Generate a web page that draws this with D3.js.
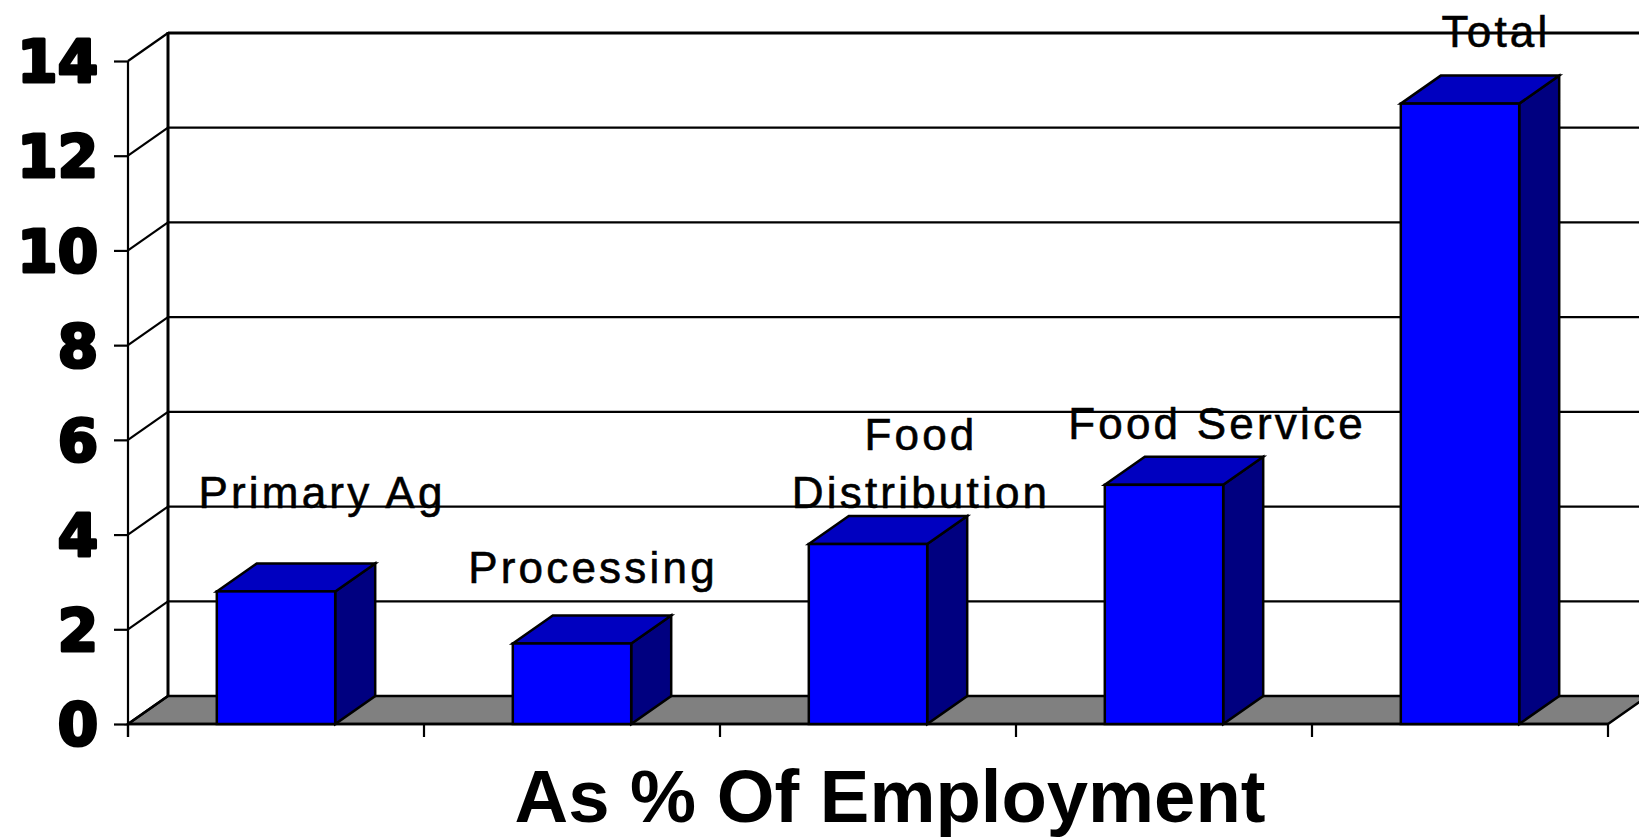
<!DOCTYPE html>
<html>
<head>
<meta charset="utf-8">
<script src="https://cdn.jsdelivr.net/npm/d3@7"></script>
<style>
  html, body { margin: 0; padding: 0; background: #fff; }
  svg { display: block; }
</style>
</head>
<body>
<svg id="chart" width="1639" height="838"></svg>
<script>
// ---- data ----
const categories = ["Primary Ag", "Processing", "Food Distribution", "Food Service", "Total"];
const values = [2.8, 1.7, 3.8, 5.05, 13.1];
const yTicks = [0, 2, 4, 6, 8, 10, 12, 14];
const labelLines = [["Primary Ag"], ["Processing"], ["Food", "Distribution"], ["Food Service"], ["Total"]];
const axisTitle = "As % Of Employment";

// ---- layout (not data) ----
const W = 1639, H = 838;
const plotLeft = 128, plotRight = 1608, plotBottom = 724, plotTop = 61;
const dx = 40, dy = -28;  // 3D depth offset
const labelDx = [46, 21, 53, 53, 36];          // label x offset from bar centre
const labelBaseline = [508, 583, 508, 439, 47]; // baseline of last label line
const lineGap = 58;

const svg = d3.select("#chart");

const x = d3.scaleBand().domain(categories).range([plotLeft, plotRight])
  .paddingInner(0.6).paddingOuter(0.3);
const y = d3.scaleLinear().domain([0, 14]).range([plotBottom, plotTop]);

// floor
svg.append("polygon")
  .attr("points", [[plotLeft, plotBottom], [plotLeft + dx, plotBottom + dy], [plotRight + dx, plotBottom + dy], [plotRight, plotBottom]].join(" "))
  .attr("fill", "#808080").attr("stroke", "#000").attr("stroke-width", 2.5).attr("stroke-linejoin", "miter");

// back-wall gridlines
svg.append("g").selectAll("line").data(yTicks.filter(d => d > 0)).join("line")
  .attr("x1", plotLeft + dx).attr("x2", W + 20)
  .attr("y1", d => y(d) + dy).attr("y2", d => y(d) + dy)
  .attr("stroke", "#000").attr("stroke-width", d => d === 14 ? 3 : 2.2);

// side-wall diagonals
svg.append("g").selectAll("line").data(yTicks).join("line")
  .attr("x1", plotLeft).attr("x2", plotLeft + dx)
  .attr("y1", d => y(d)).attr("y2", d => y(d) + dy)
  .attr("stroke", "#000").attr("stroke-width", 2.2);

// back wall left vertical
svg.append("line")
  .attr("x1", plotLeft + dx).attr("x2", plotLeft + dx)
  .attr("y1", y(14) + dy - 1).attr("y2", y(0) + dy)
  .attr("stroke", "#000").attr("stroke-width", 3);

// y axis (front)
const yAxis = d3.axisLeft(y).tickValues(yTicks).tickSize(14).tickPadding(16).tickFormat(d3.format("d"));
const gy = svg.append("g").attr("transform", `translate(${plotLeft},0)`).call(yAxis);
gy.select(".domain").attr("stroke", "#000").attr("stroke-width", 2.2)
  .attr("d", `M0,${y(14)}V${y(0) + 13}`);
gy.selectAll(".tick line").attr("stroke", "#000").attr("stroke-width", 2.2);
gy.selectAll(".tick text")
  .attr("fill", "#000").attr("stroke", "#000").attr("stroke-width", 3.2)
  .attr("stroke-linejoin", "round")
  .style("font-family", "'DejaVu Sans', sans-serif").style("font-weight", "bold")
  .style("font-size", "58px").attr("dy", "0.36em");

// x axis (front)
const boundaries = d3.range(categories.length + 1).map(i => plotLeft + i * x.step());
svg.append("line").attr("x1", plotLeft).attr("x2", plotRight).attr("y1", plotBottom).attr("y2", plotBottom)
  .attr("stroke", "#000").attr("stroke-width", 2.5);
svg.append("g").selectAll("line").data(boundaries).join("line")
  .attr("x1", d => d).attr("x2", d => d).attr("y1", plotBottom).attr("y2", plotBottom + 13)
  .attr("stroke", "#000").attr("stroke-width", 2.2);

// bars
const bars = svg.append("g").selectAll("g").data(categories).join("g");
bars.each(function (c, i) {
  const g = d3.select(this);
  const x0 = x(c), x1 = x(c) + x.bandwidth();
  const yv = y(values[i]), y0 = y(0);
  g.append("polygon")
    .attr("points", [[x1, yv], [x1 + dx, yv + dy], [x1 + dx, y0 + dy], [x1, y0]].join(" "))
    .attr("fill", "#000080").attr("stroke", "#000").attr("stroke-width", 2.5).attr("stroke-linejoin", "miter");
  g.append("polygon")
    .attr("points", [[x0, yv], [x0 + dx, yv + dy], [x1 + dx, yv + dy], [x1, yv]].join(" "))
    .attr("fill", "#0000C0").attr("stroke", "#000").attr("stroke-width", 2.5).attr("stroke-linejoin", "miter");
  g.append("rect")
    .attr("x", x0).attr("y", yv).attr("width", x1 - x0).attr("height", y0 - yv)
    .attr("fill", "#0000FF").attr("stroke", "#000").attr("stroke-width", 2.5);
});

// category labels
const labels = svg.append("g").selectAll("text").data(categories).join("text")
  .attr("text-anchor", "middle")
  .style("font-family", "'Liberation Sans', Arial, sans-serif")
  .style("font-size", "44px").style("letter-spacing", "3.2px")
  .attr("fill", "#000").attr("stroke", "#000").attr("stroke-width", 0.6);
labels.each(function (c, i) {
  const t = d3.select(this);
  const cx = x(c) + x.bandwidth() / 2 + labelDx[i];
  const lines = labelLines[i];
  lines.forEach((ln, j) => {
    t.append("tspan").attr("x", cx)
      .attr("y", labelBaseline[i] - (lines.length - 1 - j) * lineGap)
      .text(ln);
  });
});

// axis title
svg.append("text")
  .attr("x", 890).attr("y", 822)
  .attr("text-anchor", "middle")
  .attr("textLength", 751).attr("lengthAdjust", "spacingAndGlyphs")
  .style("font-family", "'Liberation Sans', Arial, sans-serif")
  .style("font-weight", "bold").style("font-size", "75px")
  .attr("fill", "#000")
  .text(axisTitle);
</script>
</body>
</html>
